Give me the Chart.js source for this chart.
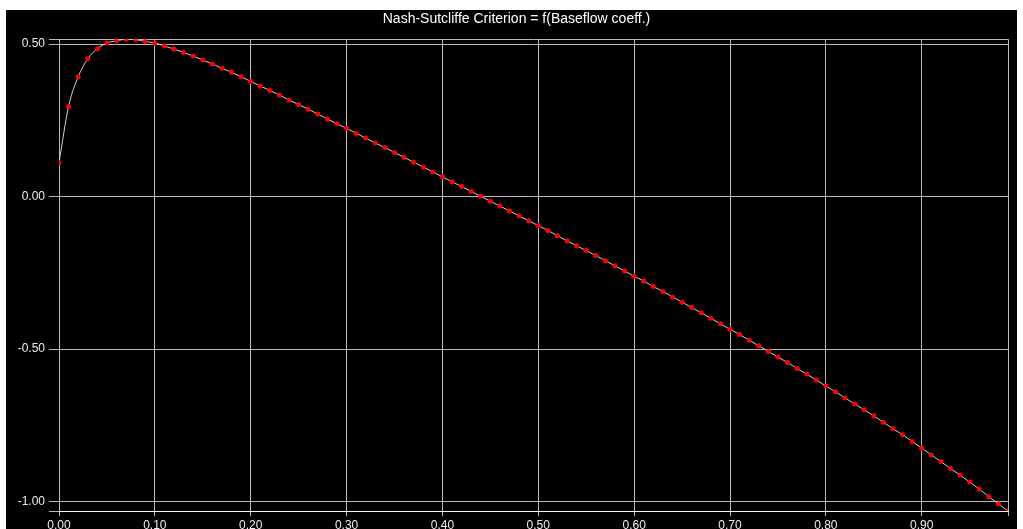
<!DOCTYPE html>
<html>
<head>
<meta charset="utf-8">
<script src="https://cdn.jsdelivr.net/npm/chart.js@4.4.1/dist/chart.umd.min.js"></script>
<style>
  html, body { margin: 0; padding: 0; background: #ffffff; }
  #wrap { width: 1023px; height: 529px; position: relative; }
</style>
</head>
<body>
<div id="wrap"><canvas id="c" width="1023" height="529"></canvas></div>
<script>
const chartTitle = "Nash-Sutcliffe Criterion = f(Baseflow coeff.)";

const baseflowCoeff = [
  0.00, 0.01, 0.02, 0.03, 0.04, 0.05, 0.06, 0.07, 0.08, 0.09,
  0.10, 0.11, 0.12, 0.13, 0.14, 0.15, 0.16, 0.17, 0.18, 0.19,
  0.20, 0.21, 0.22, 0.23, 0.24, 0.25, 0.26, 0.27, 0.28, 0.29,
  0.30, 0.31, 0.32, 0.33, 0.34, 0.35, 0.36, 0.37, 0.38, 0.39,
  0.40, 0.41, 0.42, 0.43, 0.44, 0.45, 0.46, 0.47, 0.48, 0.49,
  0.50, 0.51, 0.52, 0.53, 0.54, 0.55, 0.56, 0.57, 0.58, 0.59,
  0.60, 0.61, 0.62, 0.63, 0.64, 0.65, 0.66, 0.67, 0.68, 0.69,
  0.70, 0.71, 0.72, 0.73, 0.74, 0.75, 0.76, 0.77, 0.78, 0.79,
  0.80, 0.81, 0.82, 0.83, 0.84, 0.85, 0.86, 0.87, 0.88, 0.89,
  0.90, 0.91, 0.92, 0.93, 0.94, 0.95, 0.96, 0.97, 0.98, 0.99
];

const nashSutcliffe = [
  0.111, 0.296, 0.393, 0.452, 0.485, 0.504, 0.511, 0.516, 0.515, 0.509,
  0.504, 0.494, 0.484, 0.473, 0.461, 0.448, 0.435, 0.421, 0.408, 0.393,
  0.378, 0.363, 0.348, 0.333, 0.317, 0.302, 0.287, 0.271, 0.255, 0.239,
  0.224, 0.208, 0.192, 0.176, 0.161, 0.145, 0.129, 0.113, 0.097, 0.081,
  0.065, 0.049, 0.033, 0.017, 0.001, -0.015, -0.031, -0.047, -0.063, -0.079,
  -0.095, -0.111, -0.128, -0.145, -0.161, -0.177, -0.193, -0.210, -0.227, -0.244,
  -0.261, -0.277, -0.295, -0.311, -0.329, -0.346, -0.364, -0.381, -0.399, -0.417,
  -0.435, -0.452, -0.471, -0.489, -0.508, -0.526, -0.544, -0.564, -0.582, -0.601,
  -0.621, -0.640, -0.660, -0.680, -0.699, -0.719, -0.740, -0.761, -0.781, -0.803,
  -0.825, -0.847, -0.869, -0.892, -0.913, -0.936, -0.959, -0.984, -1.008, -1.031
];

const xTickValues = [0.00, 0.10, 0.20, 0.30, 0.40, 0.50, 0.60, 0.70, 0.80, 0.90];
const yTickValues = [-1.00, -0.50, 0.00, 0.50];

const xMin = Math.min(...baseflowCoeff), xMax = Math.max(...baseflowCoeff);
const yMin = Math.min(...nashSutcliffe), yMax = Math.max(...nashSutcliffe);

const points = baseflowCoeff.map((x, i) => ({ x: x, y: nashSutcliffe[i] }));

const bgPlugin = {
  id: 'bg',
  afterLayout(chart) {
    // shift the title block so that it is centred like in the original
    if (chart.titleBlock) {
      chart.titleBlock.left = 25;
    }
  },
  beforeDraw(chart) {
    const ctx = chart.ctx;
    ctx.save();
    ctx.fillStyle = '#000000';
    ctx.fillRect(6, 10, 1011, 519);
    ctx.restore();
  }
};

const FONT = "'Liberation Sans', Arial, sans-serif";
const LABEL = '#e6edf5';
const GRID = '#b9b9b9';

function isTick(list, v) {
  return list.some(t => Math.abs(t - v) < 1e-6);
}

new Chart(document.getElementById('c'), {
  type: 'line',
  data: {
    datasets: [{
      data: points,
      borderColor: '#d0d0d0',
      borderWidth: 1,
      pointBackgroundColor: '#ff0000',
      pointBorderColor: '#ff0000',
      pointBorderWidth: 0,
      pointRadius: 2.5,
      pointStyle: 'circle',
      cubicInterpolationMode: 'monotone',
      fill: false
    }]
  },
  plugins: [bgPlugin],
  options: {
    responsive: false,
    animation: false,
    devicePixelRatio: 1,
    layout: { padding: { left: 6, right: 15, top: 0, bottom: 0 } },
    plugins: {
      legend: { display: false },
      tooltip: { enabled: false },
      title: {
        display: true,
        text: chartTitle,
        color: '#ffffff',
        font: { family: FONT, size: 14, weight: 'normal' },
        padding: { top: 10.5, bottom: 12 }
      }
    },
    scales: {
      x: {
        type: 'linear',
        min: xMin,
        max: xMax,
        afterBuildTicks(scale) {
          scale.ticks = xTickValues.concat([xMax]).map(v => ({ value: v }));
        },
        afterFit(scale) { scale.height = 18; },
        ticks: {
          autoSkip: false,
          maxRotation: 0,
          color: LABEL,
          font: { family: FONT, size: 12 },
          padding: 2,
          callback(v) { return isTick(xTickValues, v) ? Number(v).toFixed(2) : ''; }
        },
        grid: { color: GRID, lineWidth: 1, drawTicks: true, tickLength: 5 },
        border: { display: true, color: '#f4f4f4', width: 1 }
      },
      y: {
        type: 'linear',
        min: yMin,
        max: yMax,
        afterBuildTicks(scale) {
          scale.ticks = [yMin].concat(yTickValues, [yMax]).map(v => ({ value: v }));
        },
        afterFit(scale) { scale.width = 53; },
        ticks: {
          autoSkip: false,
          color: LABEL,
          font: { family: FONT, size: 12 },
          padding: 4,
          callback(v) { return isTick(yTickValues, v) ? Number(v).toFixed(2) : ''; }
        },
        grid: { color: GRID, lineWidth: 1, drawTicks: true, tickLength: 10 },
        border: { display: false }
      }
    }
  }
});
</script>
</body>
</html>
